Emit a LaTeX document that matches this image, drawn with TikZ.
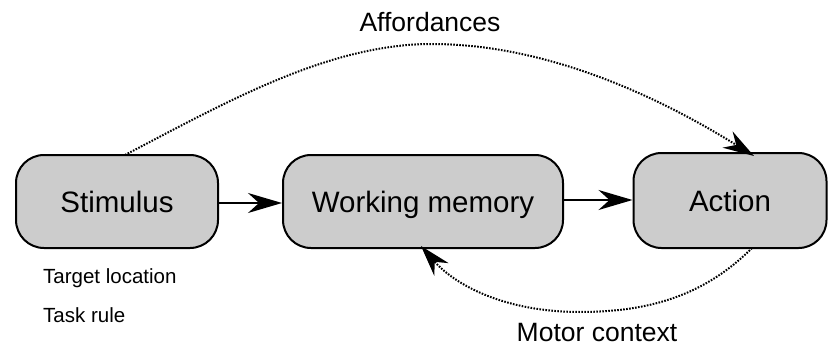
\documentclass[tikz,border=0pt]{standalone}
\usepackage{fontspec}
\setmainfont{Liberation Sans}
\usetikzlibrary{arrows.meta}
\definecolor{boxfill}{HTML}{CCCCCC}
\begin{document}
\begin{tikzpicture}[x=1pt,y=-1pt,
  stagebox/.style={draw=black,line width=2pt,fill=boxfill,rounded corners=28pt,
    inner sep=0pt,text height=21.1pt,text depth=0pt,
    font=\fontsize{29.5}{35}\selectfont},
  flowarrow/.style={line width=1.7pt,-{Stealth[length=34pt,width=20pt,inset=11pt]}},
  linkarrow/.style={line width=2pt,dash pattern=on 1.6pt off 1.4pt,
    -{Stealth[length=31pt,width=19pt,inset=10pt,sep=0pt]}},
  curvelabel/.style={inner sep=0pt,font=\fontsize{26.5}{32}\selectfont},
  notelabel/.style={inner sep=0pt,anchor=west,text height=14.7pt,text depth=0pt,
    font=\fontsize{20.5}{25}\selectfont}]
\useasboundingbox (0,0) rectangle (828,348);
\node[stagebox,minimum width=202pt,minimum height=93pt] (stim) at (117,201.5) {Stimulus};
\node[stagebox,minimum width=280pt,minimum height=93pt] (wm) at (423,201.5) {Working memory};
\node[stagebox,minimum width=193pt,minimum height=95pt] (act) at (730,200.5) {Action};
\draw[flowarrow] (stim.east |- 0,203) -- (wm.west |- 0,203);
\draw[flowarrow] (wm.east |- 0,200) -- (act.west |- 0,200);
\coordinate (affstart) at (125,155);
\coordinate (afftip) at (754,156);
\coordinate (motstart) at (752,248);
\coordinate (mottip) at (421,246);
\draw[linkarrow] (affstart) .. controls (230,100) and (330,44) .. (432,44)
   .. controls (560,44) and (680,110) .. (afftip);
\draw[linkarrow] (motstart) .. controls (705,295) and (650,312) .. (580,312)
   .. controls (505,312) and (455,285) .. (mottip);
\node[curvelabel] (afflab) at (430,22) {Affordances};
\node[curvelabel] (motlab) at (597,333) {Motor context};
\node[notelabel] (target) at (43,276) {Target location};
\node[notelabel] (task) at (43,315) {Task rule};
\end{tikzpicture}
\end{document}
